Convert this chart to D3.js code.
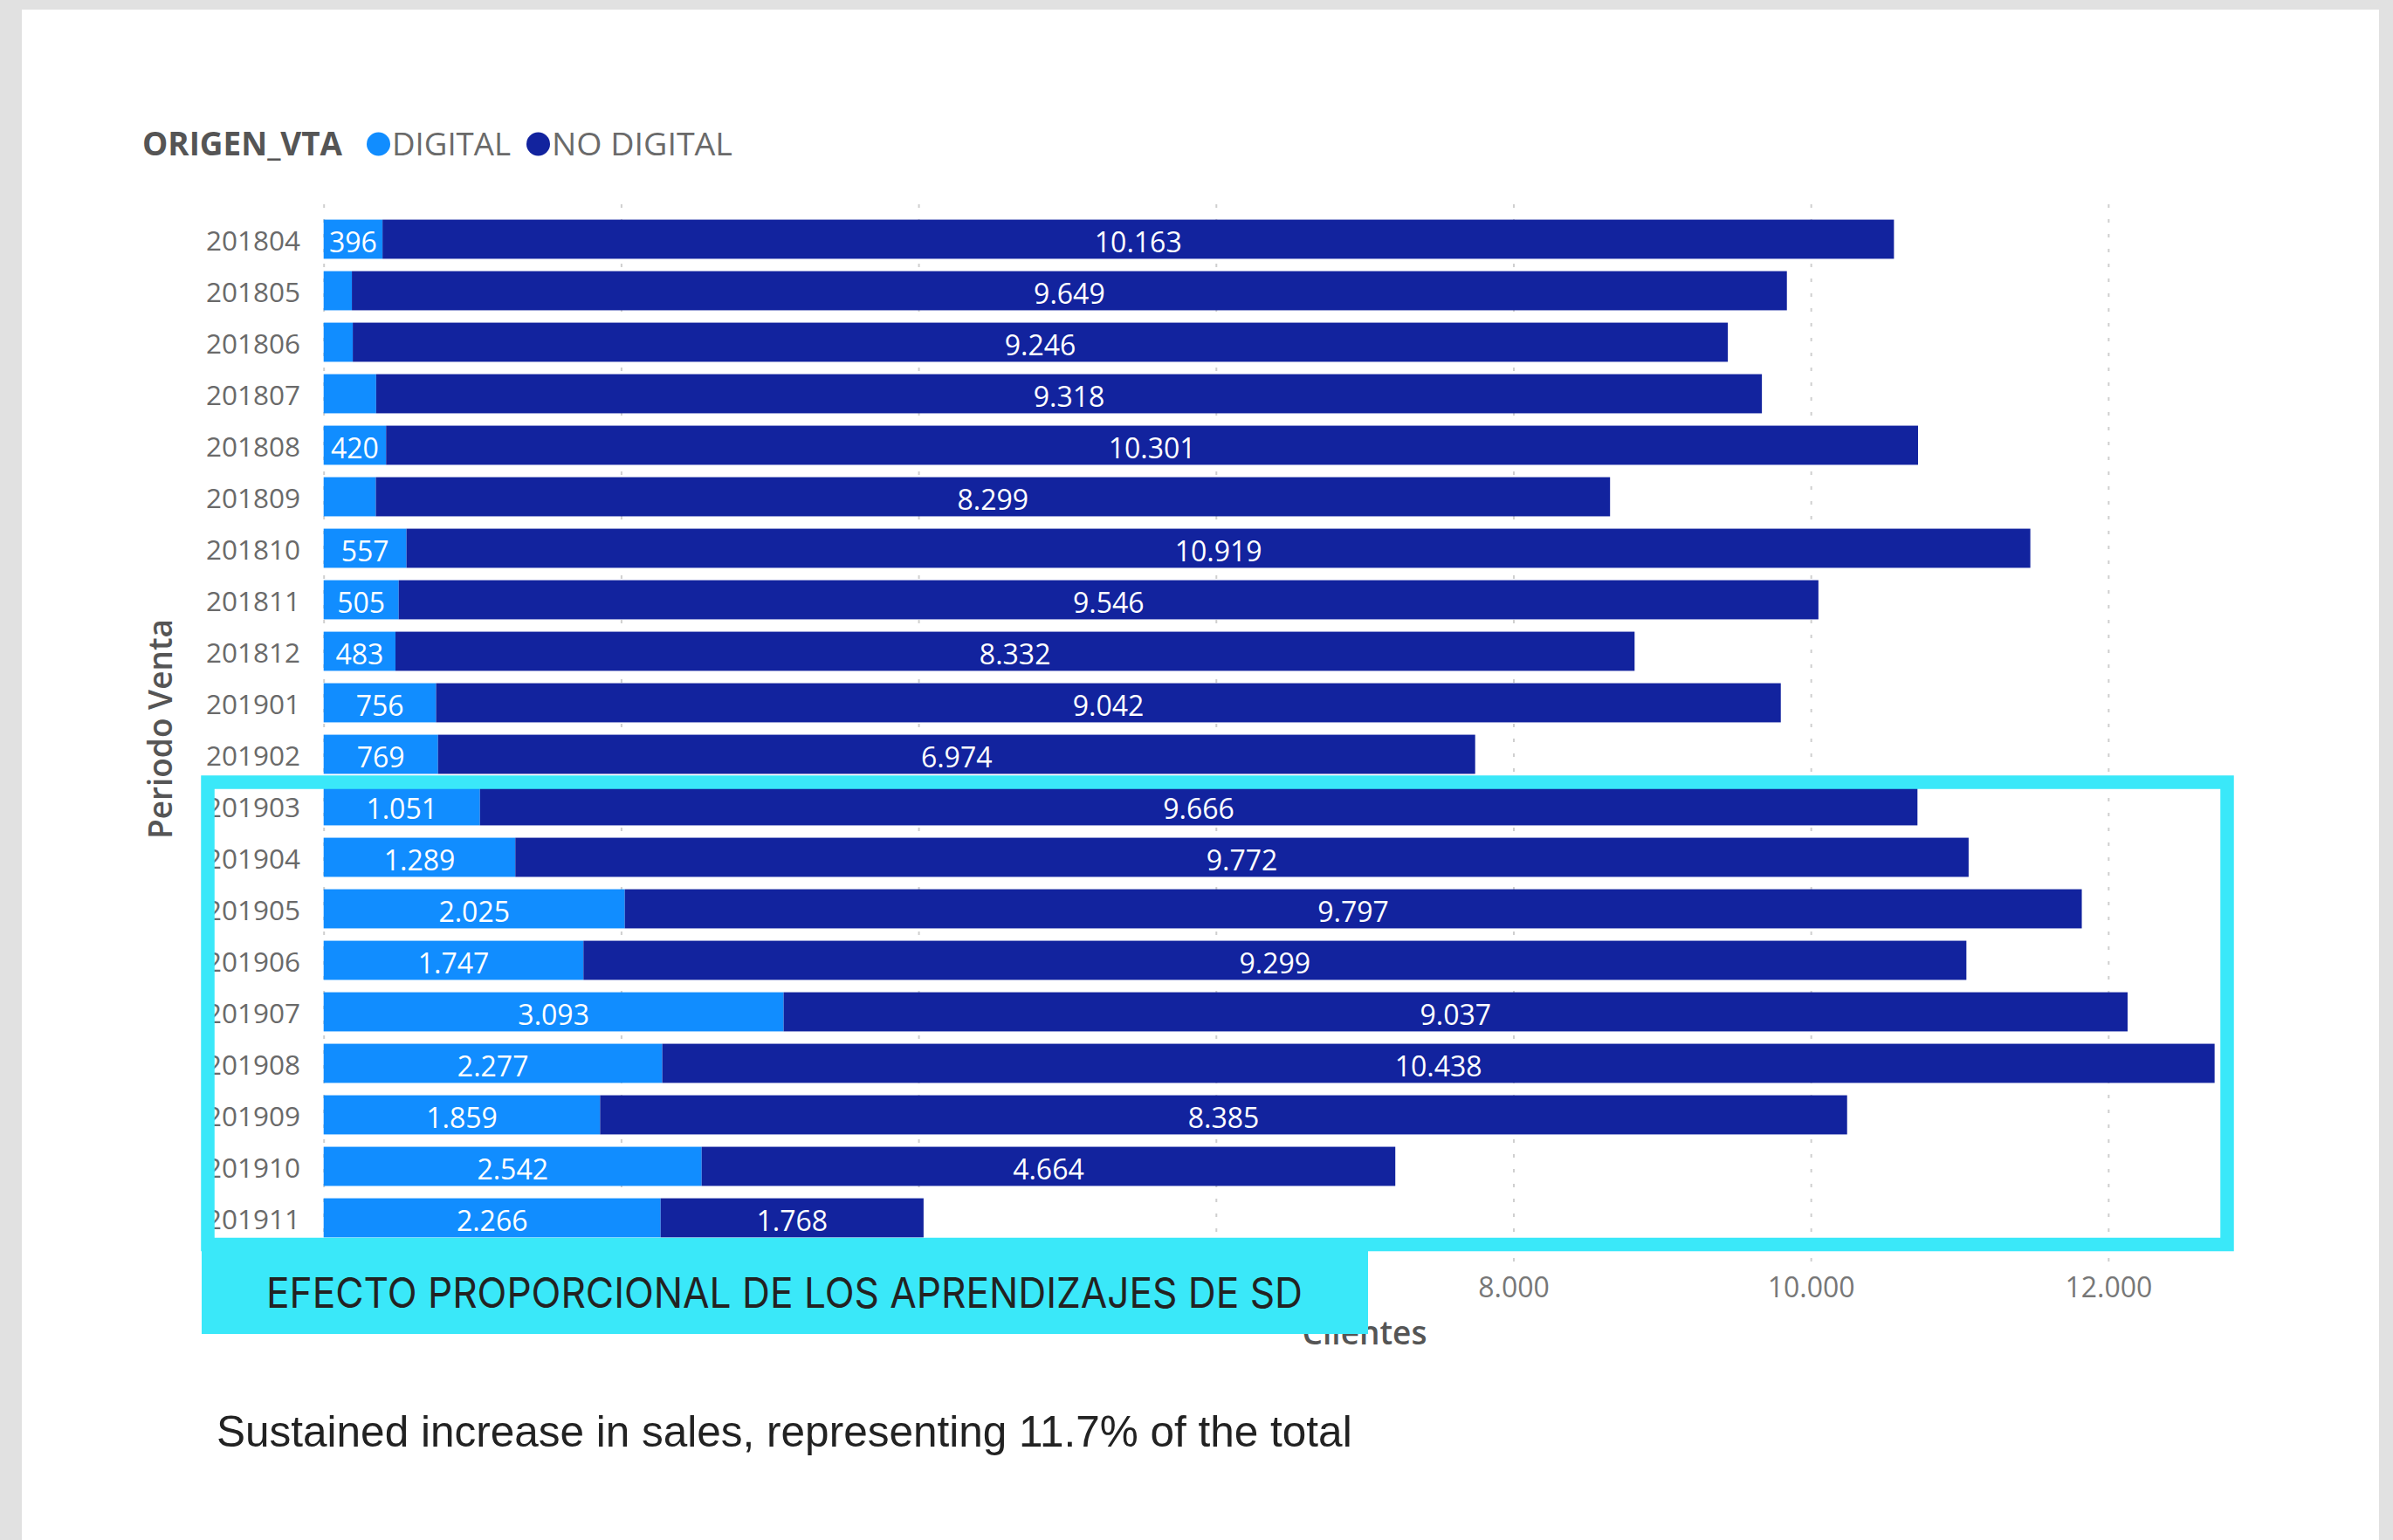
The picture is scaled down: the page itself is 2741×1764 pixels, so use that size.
<!DOCTYPE html>
<html>
<head>
<meta charset="utf-8">
<script src="https://cdn.jsdelivr.net/npm/d3@7"></script>
<style>
  html, body { margin: 0; padding: 0; background: #e1e1e1; }
  svg { display: block; }
</style>
</head>
<body>
<svg id="chart" width="2741" height="1764"></svg>
<script>
// ---------- DATA ----------
const periods = ["201804","201805","201806","201807","201808","201809","201810","201811","201812",
                 "201901","201902","201903","201904","201905","201906","201907","201908","201909","201910","201911"];
const digital   = [396, 190, 196, 353, 420, 351, 557, 505, 483, 756, 769, 1051, 1289, 2025, 1747, 3093, 2277, 1859, 2542, 2266];
const noDigital = [10163, 9649, 9246, 9318, 10301, 8299, 10919, 9546, 8332, 9042, 6974, 9666, 9772, 9797, 9299, 9037, 10438, 8385, 4664, 1768];
const seriesNames = ["DIGITAL", "NO DIGITAL"];
const xTicks = [0, 2000, 4000, 6000, 8000, 10000, 12000];
const legendTitle = "ORIGEN_VTA";
const xTitle = "Clientes";
const yTitle = "Periodo Venta";
const highlightLabel = "EFECTO PROPORCIONAL DE LOS APRENDIZAJES DE SD";
const footnote = "Sustained increase in sales, representing 11.7% of the total";

// ---------- STYLE ----------
const colors = ["#118DFF", "#12239E"];
const cyan = "#3AE8F9";
const uiFont = "'Segoe UI', 'Open Sans', 'Noto Sans', sans-serif";

const svg = d3.select("#chart");
const locale = d3.formatLocale({decimal: ",", thousands: ".", grouping: [3], currency: ["", ""]});
const fmt = locale.format(",d");

// white card
svg.append("rect").attr("x", 25).attr("y", 11).attr("width", 2700).attr("height", 1764 - 11).attr("fill", "#ffffff");

// scales
const x = d3.scaleLinear().domain([0, 13000]).range([370.7, 2585.2]);
const y = d3.scaleBand().domain(periods).range([244.5, 1424.5]).paddingInner(0.24).paddingOuter(0.12);

// label box geometry (layout)
const boxRight = 1567;

// stacked data
const rows = periods.map((p, i) => ({period: p, DIGITAL: digital[i], "NO DIGITAL": noDigital[i]}));
const stacked = d3.stack().keys(seriesNames)(rows);

// gridlines
const grid = svg.append("g").attr("transform", "translate(0,1445)")
  .call(d3.axisBottom(x).tickValues(xTicks).tickSize(-1212).tickFormat(""));
grid.select(".domain").remove();
grid.selectAll("line").attr("stroke", "#cfcfcf").attr("stroke-width", 2).attr("stroke-dasharray", "4,13");

// bars
const layers = svg.append("g").selectAll("g").data(stacked).join("g")
  .attr("fill", (d, i) => colors[i]);
layers.selectAll("rect").data(d => d).join("rect")
  .attr("x", d => x(d[0]))
  .attr("y", d => y(d.data.period))
  .attr("width", d => x(d[1]) - x(d[0]))
  .attr("height", y.bandwidth());

// data labels
const labelsG = svg.append("g");
stacked.forEach(layer => {
  layer.forEach(d => {
    const w = x(d[1]) - x(d[0]);
    const t = labelsG.append("text")
      .attr("x", (x(d[0]) + x(d[1])) / 2)
      .attr("y", y(d.data.period) + y.bandwidth() / 2 + 2)
      .attr("text-anchor", "middle")
      .attr("dominant-baseline", "central")
      .attr("fill", "#ffffff")
      .attr("font-family", uiFont)
      .attr("font-size", 32)
      .text(fmt(d[1] - d[0]));
    if (t.node().getComputedTextLength() + 10 > w) t.remove();
  });
});

// category axis labels
const yAxis = svg.append("g").attr("transform", "translate(344,0)")
  .call(d3.axisLeft(y).tickSize(0).tickPadding(0));
yAxis.select(".domain").remove();
yAxis.selectAll("text")
  .attr("font-family", uiFont).attr("font-size", 31.5).attr("fill", "#6a6a6a")
  .attr("dy", "0.42em");

// x tick labels (those left of the label box are hidden beneath it in the reference)
const xAxis = svg.append("g").attr("transform", "translate(0,1486)")
  .call(d3.axisBottom(x).tickValues(xTicks.filter(v => x(v) > boxRight)).tickSize(0).tickPadding(0).tickFormat(fmt));
xAxis.select(".domain").remove();
xAxis.selectAll("text")
  .attr("font-family", uiFont).attr("font-size", 32).attr("fill", "#777777")
  .attr("dy", 0);

// axis titles
svg.append("text").attr("x", 1563).attr("y", 1540).attr("text-anchor", "middle")
  .attr("font-family", uiFont).attr("font-weight", 600).attr("font-size", 37).attr("fill", "#555555")
  .text(xTitle);
svg.append("text").attr("transform", "translate(197,835) rotate(-90)").attr("text-anchor", "middle")
  .attr("font-family", uiFont).attr("font-weight", 600).attr("font-size", 37).attr("fill", "#555555")
  .text(yTitle);

// legend
const leg = svg.append("g");
leg.append("text").attr("x", 163).attr("y", 178)
  .attr("font-family", uiFont).attr("font-weight", 700).attr("font-size", 37).attr("fill", "#555555")
  .attr("textLength", 229).attr("lengthAdjust", "spacingAndGlyphs")
  .text(legendTitle);
const legendItemX = [420, 603];
const legendTextW = [136, 207];
seriesNames.forEach((name, i) => {
  leg.append("circle").attr("cx", legendItemX[i] + 13.5).attr("cy", 165).attr("r", 13.5).attr("fill", colors[i]);
  leg.append("text").attr("x", legendItemX[i] + 29).attr("y", 178)
    .attr("font-family", uiFont).attr("font-weight", 400).attr("font-size", 37).attr("fill", "#6a6a6a")
    .attr("textLength", legendTextW[i]).attr("lengthAdjust", "spacingAndGlyphs")
    .text(name);
});

// highlight outline
svg.append("rect").attr("x", 238).attr("y", 896).attr("width", 2313).attr("height", 529.5)
  .attr("fill", "none").attr("stroke", cyan).attr("stroke-width", 15.5);
// label box
svg.append("rect").attr("x", 231).attr("y", 1418).attr("width", boxRight - 231).attr("height", 110).attr("fill", cyan);
svg.append("text").attr("x", 305).attr("y", 1498)
  .attr("font-family", "Inter, 'Noto Sans', sans-serif").attr("font-size", 48).attr("fill", "#222222")
  .attr("textLength", 1187).attr("lengthAdjust", "spacingAndGlyphs")
  .text(highlightLabel);

// footnote
svg.append("text").attr("x", 248).attr("y", 1657)
  .attr("font-family", "'Liberation Sans', Arial, sans-serif").attr("font-size", 49.5).attr("fill", "#222222")
  .text(footnote);
</script>
</body>
</html>
